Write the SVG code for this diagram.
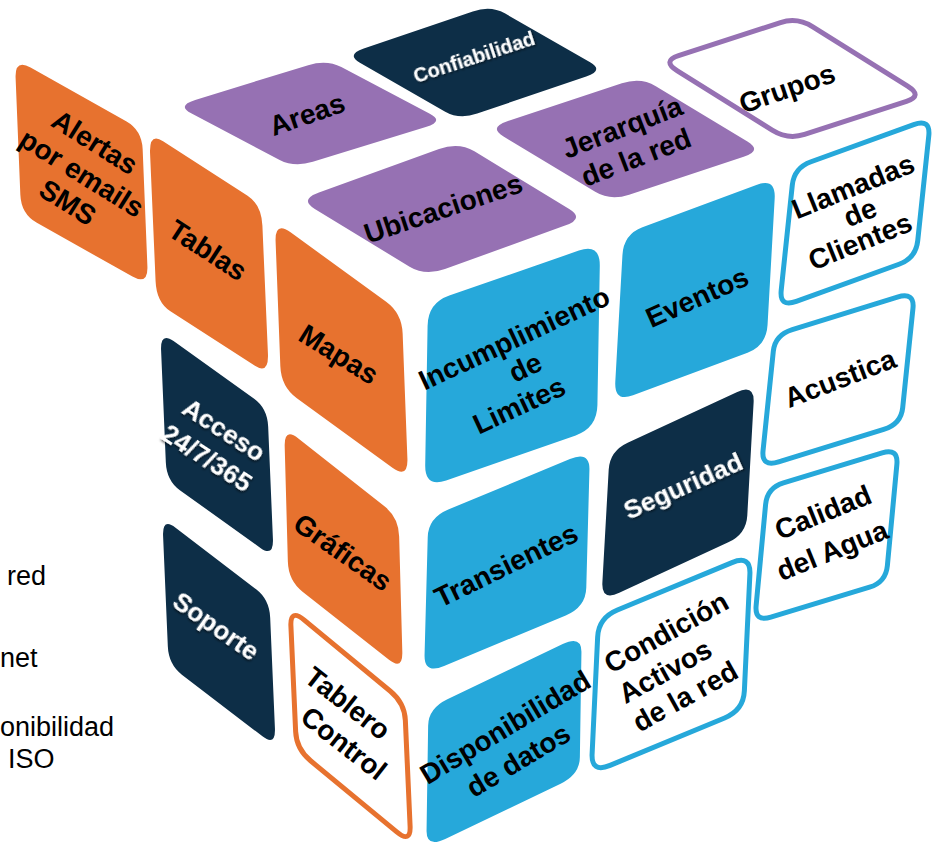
<svg xmlns="http://www.w3.org/2000/svg" xmlns:xlink="http://www.w3.org/1999/xlink" width="932" height="844" viewBox="0 0 932 844">
<style>
.or{fill:#E7722F}
.pu{fill:#9671B3}
.nv{fill:#0D2E47}
.bl{fill:#26A8DA}
.obl{fill:#fff;stroke:#26A8DA;stroke-width:5}
.oor{fill:#fff;stroke:#E7722F;stroke-width:5}
.opu{fill:#fff;stroke:#9671B3;stroke-width:5}
text{font-family:"Liberation Sans",Arial,sans-serif;font-weight:bold;text-anchor:middle}
.k{fill:#000;font-size:28px}
.w{fill:#fff;font-size:26px;filter:url(#sh)}
.side{font-family:"Liberation Sans",Arial,sans-serif;font-weight:normal;font-size:27px;text-anchor:start;fill:#000}
</style>
<defs>
<path id="tile" vector-effect="non-scaling-stroke" d="M0.105,-0.025 H0.895 Q1.025,-0.025 1.025,0.105 V0.895 Q1.025,1.025 0.895,1.025 H0.105 Q-0.025,1.025 -0.025,0.895 V0.105 Q-0.025,-0.025 0.105,-0.025 Z"/>
<filter id="sh" x="-10%" y="-30%" width="120%" height="160%">
<feDropShadow dx="1" dy="1.5" stdDeviation="0.8" flood-color="#000" flood-opacity="0.6"/>
</filter>
</defs>
<rect width="932" height="844" fill="#fff"/>
<g id="side-text">
<text class="side" x="7" y="585">red</text>
<text class="side" x="0" y="667">net</text>
<text class="side" x="0" y="736">onibilidad</text>
<text class="side" x="8" y="768">ISO</text>
</g>
<g id="connectors"/>
<g id="confiabilidad"><use href="#tile" class="nv" transform="matrix(138,-47,108,62,352,55)"/>
<text class="w" style="font-size:20px" transform="translate(474,57) rotate(-18)" y="7">Confiabilidad</text></g>
<g id="areas"><use href="#tile" class="pu" transform="matrix(143,-44,112,59,183,106)"/>
<text class="k" transform="translate(307,114) rotate(-19)" y="10">Areas</text></g>
<g id="grupos"><use href="#tile" class="opu" transform="matrix(129,-42,120,75,668,62)"/>
<text class="k" transform="translate(787,88) rotate(-19)" y="10">Grupos</text></g>
<g id="jerarquia"><use href="#tile" class="pu" transform="matrix(145,-48,116,70,495,128)"/>
<text class="k" transform="translate(622,127) rotate(-21)" y="10">Jerarquía</text>
<text class="k" transform="translate(636,157) rotate(-21)" y="10">de la red</text></g>
<g id="ubicaciones"><use href="#tile" class="pu" transform="matrix(152,-55,120,73,306,200)"/>
<text class="k" transform="translate(443,208) rotate(-18.5)" y="10">Ubicaciones</text></g>
<g id="alertas"><use href="#tile" class="or" transform="matrix(121,68,6,148,18,64)"/>
<text class="k" transform="translate(95,142) rotate(32)" y="10">Alertas</text>
<text class="k" transform="translate(82,173) rotate(32)" y="10">por emails</text>
<text class="k" transform="translate(68,202) rotate(32)" y="10">SMS</text></g>
<g id="tablas"><use href="#tile" class="or" transform="matrix(107,69,7,162,152,138)"/>
<text class="k" transform="translate(208,250) rotate(33)" y="10">Tablas</text></g>
<g id="mapas"><use href="#tile" class="or" transform="matrix(121,88,6,158,278,227)"/>
<text class="k" transform="translate(339,354) rotate(32)" y="10">Mapas</text></g>
<g id="acceso"><use href="#tile" class="nv" transform="matrix(102,73,6,142,163,337)"/>
<text class="w" transform="translate(224,430) rotate(33)" y="9">Acceso</text>
<text class="w" transform="translate(207,458) rotate(33)" y="9">24/7/365</text></g>
<g id="graficas"><use href="#tile" class="or" transform="matrix(109,86,4,146,287,433)"/>
<text class="k" transform="translate(343,552) rotate(35)" y="10">Gráficas</text></g>
<g id="soporte"><use href="#tile" class="nv" transform="matrix(102,78,6,140,165,523)"/>
<text class="w" transform="translate(216,626) rotate(35)" y="9">Soporte</text></g>
<g id="tablero"><use href="#tile" class="oor" transform="matrix(109,90,6,134,293,614)"/>
<text class="k" transform="translate(348,703) rotate(38)" y="10">Tablero</text>
<text class="k" transform="translate(344,743) rotate(38)" y="10">Control</text></g>
<g id="incumplimiento"><use href="#tile" class="bl" transform="matrix(164,-57,-3,176,432,306)"/>
<text class="k" transform="translate(514,338) rotate(-25)" y="10">Incumplimiento</text>
<text class="k" transform="translate(525,367) rotate(-25)" y="10">de</text>
<text class="k" transform="translate(519,405) rotate(-25)" y="10">Limites</text></g>
<g id="eventos"><use href="#tile" class="bl" transform="matrix(145,-54,-9,160,627,237)"/>
<text class="k" transform="translate(697,297) rotate(-24)" y="10">Eventos</text></g>
<g id="transientes"><use href="#tile" class="bl" transform="matrix(154,-64,-4,149,432,520)"/>
<text class="k" transform="translate(506,565) rotate(-26)" y="10">Transientes</text></g>
<g id="seguridad"><use href="#tile" class="nv" transform="matrix(138,-64,-8,143,613,453)"/>
<text class="w" transform="translate(683,486) rotate(-24)" y="9">Seguridad</text></g>
<g id="disponibilidad"><use href="#tile" class="bl" transform="matrix(146,-70,-2,133,432,710)"/>
<text class="k" transform="translate(505,727) rotate(-31)" y="10">Disponibilidad</text>
<text class="k" transform="translate(518,760) rotate(-31)" y="10">de datos</text></g>
<g id="condicion"><use href="#tile" class="obl" transform="matrix(145,-60,-7,148,602,620)"/>
<text class="k" transform="translate(666,632) rotate(-29)" y="10">Condición</text>
<text class="k" transform="translate(665,671) rotate(-29)" y="10">Activos</text>
<text class="k" transform="translate(685,696) rotate(-29)" y="10">de la red</text></g>
<g id="llamadas"><use href="#tile" class="obl" transform="matrix(130,-47,-14,133,797,170)"/>
<text class="k" transform="translate(853,186) rotate(-22)" y="10">Llamadas</text>
<text class="k" transform="translate(860,212) rotate(-22)" y="10">de</text>
<text class="k" transform="translate(860,241) rotate(-22)" y="10">Clientes</text></g>
<g id="acustica"><use href="#tile" class="obl" transform="matrix(133,-41,-13,126,778,337)"/>
<text class="k" transform="translate(840,378) rotate(-21)" y="10">Acustica</text></g>
<g id="calidad"><use href="#tile" class="obl" transform="matrix(125,-38,-12,128,770,490)"/>
<text class="k" transform="translate(823,512) rotate(-22)" y="10">Calidad</text>
<text class="k" transform="translate(832,550) rotate(-22)" y="10">del Agua</text></g>
</svg>
